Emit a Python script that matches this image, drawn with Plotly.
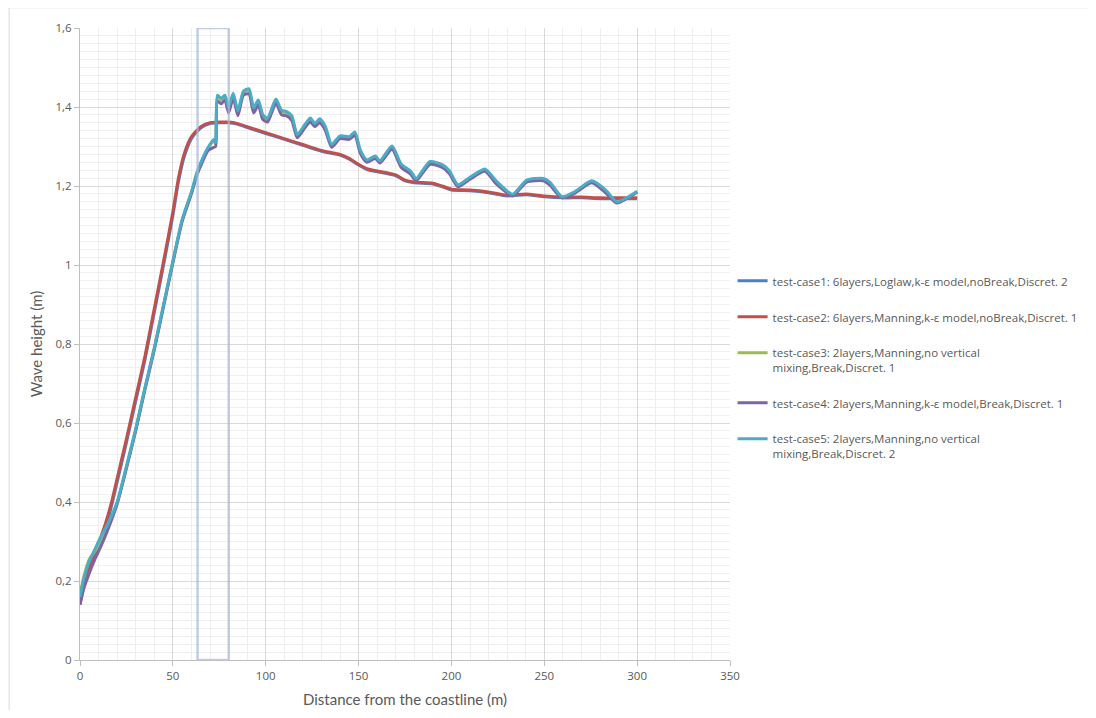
import plotly.graph_objects as go

# ---------------- data ----------------
X_SMOOTH = [0, 2, 5, 8, 10, 14, 17, 20, 25, 30, 35, 40, 45, 50, 53, 56, 60, 65, 70, 75, 80,
            85, 90, 100, 110, 120, 130, 140, 145, 150, 155, 160, 170, 175, 180, 190, 195,
            200, 210, 220, 230, 240, 250, 260, 270, 280, 290, 300]

CASE1 = [0.15, 0.19, 0.235, 0.265, 0.29, 0.34, 0.39, 0.45, 0.55, 0.655, 0.76, 0.88, 1.0,
         1.125, 1.21, 1.272, 1.32, 1.347, 1.358, 1.36, 1.36, 1.356, 1.348, 1.333, 1.318,
         1.303, 1.288, 1.278, 1.268, 1.253, 1.241, 1.236, 1.226, 1.213, 1.208, 1.205, 1.198,
         1.19, 1.188, 1.183, 1.175, 1.178, 1.173, 1.17, 1.17, 1.168, 1.168, 1.168]

CASE2 = [0.14, 0.185, 0.23, 0.27, 0.295, 0.35, 0.40, 0.46, 0.56, 0.665, 0.77, 0.89, 1.01,
         1.135, 1.22, 1.28, 1.325, 1.35, 1.36, 1.362, 1.362, 1.358, 1.35, 1.335, 1.32,
         1.305, 1.29, 1.28, 1.27, 1.255, 1.243, 1.238, 1.228, 1.215, 1.21, 1.207, 1.20,
         1.192, 1.19, 1.185, 1.177, 1.18, 1.175, 1.172, 1.172, 1.17, 1.17, 1.17]

X_BREAK = [0, 2, 5, 8, 11, 15, 20, 25, 30, 35, 40, 45, 50, 55, 60, 63, 66, 69, 72, 73, 74,
           76, 78, 80, 82.5, 85, 88, 91, 93.5, 96, 98.5, 101, 105.5, 108.5, 111, 114, 117,
           121, 124, 126.5, 129, 132, 135.5, 140, 145, 148, 151, 154.5, 159, 161.5, 168,
           173, 178, 181, 188.5, 195.5, 199, 203.5, 210, 218, 224.5, 233, 240.5, 249.5,
           253, 259.5, 266.5, 275.5, 283, 289, 295, 300]

CASE3 = [0.165, 0.21, 0.255, 0.275, 0.30, 0.34, 0.398, 0.488, 0.583, 0.688, 0.788, 0.898,
         1.008, 1.113, 1.183, 1.232, 1.267, 1.295, 1.314, 1.307, 1.426, 1.418, 1.426, 1.396,
         1.431, 1.386, 1.436, 1.442, 1.394, 1.414, 1.376, 1.368, 1.416, 1.388, 1.385, 1.374,
         1.327, 1.351, 1.368, 1.355, 1.366, 1.348, 1.302, 1.324, 1.322, 1.333, 1.287, 1.263,
         1.273, 1.261, 1.297, 1.252, 1.235, 1.216, 1.259, 1.25, 1.235, 1.2, 1.219, 1.24,
         1.208, 1.177, 1.212, 1.216, 1.207, 1.171, 1.184, 1.21, 1.187, 1.158, 1.17, 1.185]

CASE4 = [0.14, 0.18, 0.22, 0.255, 0.285, 0.33, 0.395, 0.485, 0.58, 0.685, 0.785, 0.895,
         1.005, 1.11, 1.18, 1.228, 1.262, 1.29, 1.298, 1.30, 1.415, 1.408, 1.418, 1.385,
         1.423, 1.378, 1.43, 1.433, 1.385, 1.405, 1.368, 1.362, 1.41, 1.38, 1.378, 1.366,
         1.322, 1.347, 1.362, 1.35, 1.36, 1.342, 1.298, 1.32, 1.318, 1.328, 1.282, 1.26,
         1.27, 1.258, 1.293, 1.247, 1.23, 1.213, 1.255, 1.246, 1.23, 1.198, 1.217, 1.237,
         1.204, 1.175, 1.21, 1.213, 1.202, 1.17, 1.182, 1.208, 1.183, 1.157, 1.17, 1.185]

CASE5 = [0.16, 0.205, 0.25, 0.28, 0.31, 0.345, 0.40, 0.49, 0.585, 0.69, 0.79, 0.90, 1.01,
         1.115, 1.185, 1.235, 1.27, 1.298, 1.318, 1.31, 1.43, 1.422, 1.43, 1.40, 1.435,
         1.39, 1.44, 1.446, 1.398, 1.418, 1.38, 1.372, 1.42, 1.392, 1.389, 1.378, 1.33,
         1.355, 1.372, 1.358, 1.37, 1.352, 1.305, 1.327, 1.325, 1.337, 1.29, 1.266, 1.276,
         1.264, 1.301, 1.255, 1.238, 1.219, 1.262, 1.253, 1.238, 1.203, 1.222, 1.243, 1.211,
         1.179, 1.215, 1.219, 1.21, 1.173, 1.186, 1.213, 1.19, 1.16, 1.172, 1.187]

NAMES = [
    "test-case1: 6layers,Loglaw,k-ε model,noBreak,Discret. 2",
    "test-case2: 6layers,Manning,k-ε model,noBreak,Discret. 1",
    "test-case3: 2layers,Manning,no vertical<br>mixing,Break,Discret. 1",
    "test-case4: 2layers,Manning,k-ε model,Break,Discret. 1",
    "test-case5: 2layers,Manning,no vertical<br>mixing,Break,Discret. 2",
]
COLORS = ["#4F81BD", "#C0504D", "#9BBB59", "#8064A2", "#4BACC6"]

HIGHLIGHT_X = [63.3, 80.1]
X_TICKS = [0, 50, 100, 150, 200, 250, 300, 350]
Y_TICKS = [0, 0.2, 0.4, 0.6, 0.8, 1, 1.2, 1.4, 1.6]

# ---------------- figure ----------------
fig = go.Figure()
series = [(X_SMOOTH, CASE1), (X_SMOOTH, CASE2), (X_BREAK, CASE3), (X_BREAK, CASE4), (X_BREAK, CASE5)]
for i, ((xs, ys), name, col) in enumerate(zip(series, NAMES, COLORS)):
    fig.add_trace(go.Scatter(
        x=xs, y=ys, mode="lines", name=name, legendgroup=f"g{i}",
        line=dict(color=col, width=3, shape="spline", smoothing=0.6),
    ))

# highlighted region box
fig.add_shape(type="rect", xref="x", yref="y", x0=HIGHLIGHT_X[0], x1=HIGHLIGHT_X[1],
              y0=0, y1=1.6, line=dict(color="rgba(168,184,216,0.7)", width=2.5),
              fillcolor="rgba(0,0,0,0)", layer="above")

# chart-area border
fig.add_shape(type="rect", xref="paper", yref="paper", x0=-0.109, x1=1.7, y0=-0.2, y1=1.032,
              line=dict(color="#d9d9d9", width=1), fillcolor="rgba(0,0,0,0)", layer="below")

axis_font = dict(family="Open Sans, DejaVu Sans, sans-serif", size=11.5, color="#595959")
title_font = dict(family="Lato, Open Sans, sans-serif", size=15, color="#595959")

fig.update_layout(
    width=1088, height=702,
    margin=dict(l=72, r=366, t=20, b=50),
    paper_bgcolor="white", plot_bgcolor="white",
    separators=", ",
    showlegend=True,
    legend=dict(x=1.004, xanchor="left", y=0.622, yanchor="top",
                font=dict(family="Open Sans, DejaVu Sans, sans-serif", size=11.5, color="#595959"),
                traceorder="grouped", tracegroupgap=17, valign="top",
                itemwidth=30, bgcolor="rgba(0,0,0,0)"),
    xaxis=dict(range=[0, 350], tickvals=X_TICKS, showgrid=True, gridcolor="#d9d9d9", gridwidth=1,
               minor=dict(dtick=10, showgrid=True, gridcolor="#eeeeee", gridwidth=1),
               showline=True, linecolor="#bfbfbf", linewidth=1,
               ticks="outside", ticklen=5, tickcolor="#bfbfbf", automargin=False,
               tickfont=axis_font, zeroline=False,
               title=dict(text="Distance from the coastline (m)", font=title_font, standoff=12)),
    yaxis=dict(range=[0, 1.6], tickvals=Y_TICKS, showgrid=True, gridcolor="#d9d9d9", gridwidth=1,
               minor=dict(dtick=0.02, showgrid=True, gridcolor="#f0f0f0", gridwidth=1),
               showline=True, linecolor="#bfbfbf", linewidth=1,
               ticks="outside", ticklen=5, tickcolor="#bfbfbf", automargin=False,
               tickfont=axis_font, zeroline=False,
               title=dict(text="Wave height (m)", font=title_font, standoff=9)),
)

fig.write_html("out.html")
